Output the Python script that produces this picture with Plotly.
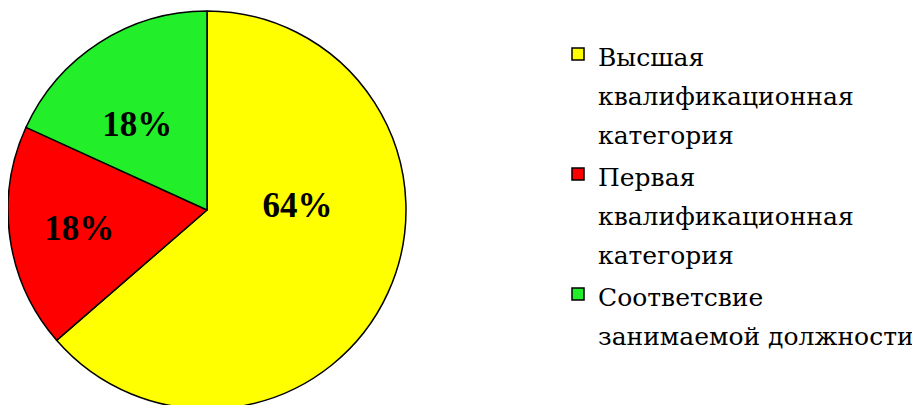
import plotly.graph_objects as go

category_lines = [
    ["Высшая", "квалификационная", "категория"],
    ["Первая", "квалификационная", "категория"],
    ["Соответсвие", "занимаемой должности"],
]
values = [7, 2, 2]
colors = ["#FFFF00", "#FF0000", "#22EE2A"]
label_templates = ["%{percent:.0%}<br>&nbsp;<br>&nbsp;", "%{percent:.0%}", "&nbsp;<br>%{percent:.0%}"]

SERIF = "Liberation Serif, DejaVu Serif, serif"
LEG = "DejaVu Serif, serif"
LEG_TEXT_SIZE = 25
LEG_LINE_SIZE = 30  # controls legend line spacing
W, H = 912, 410
T, B = 3, 9
PH = H - T - B

labels = [
    "<br>".join(f"<span style='font-size:{LEG_TEXT_SIZE}px'>{ln}</span>" for ln in lines)
    for lines in category_lines
]

fig = go.Figure(
    go.Pie(
        labels=labels,
        values=values,
        sort=False,
        direction="clockwise",
        rotation=0,
        marker=dict(colors=colors, line=dict(color="#000000", width=1.5)),
        texttemplate=label_templates,
        textposition="inside",
        insidetextorientation="horizontal",
        textfont=dict(family=SERIF, size=35, color="#000000", weight="bold"),
        domain=dict(x=[0, 398 / W], y=[0, 1]),
        hoverinfo="label+percent",
    )
)

fig.update_layout(
    width=W,
    height=H,
    margin=dict(l=0, r=0, t=T, b=B),
    font=dict(family=LEG, size=LEG_TEXT_SIZE, color="#000000"),
    paper_bgcolor="#FFFFFF",
    plot_bgcolor="#FFFFFF",
    showlegend=True,
    legend=dict(
        x=550 / W,
        y=1 - (20 - T) / PH,
        xanchor="left",
        yanchor="top",
        valign="top",
        font=dict(family=LEG, size=LEG_LINE_SIZE, color="#000000"),
        bgcolor="rgba(0,0,0,0)",
    ),
)

fig.write_html("out.html")
